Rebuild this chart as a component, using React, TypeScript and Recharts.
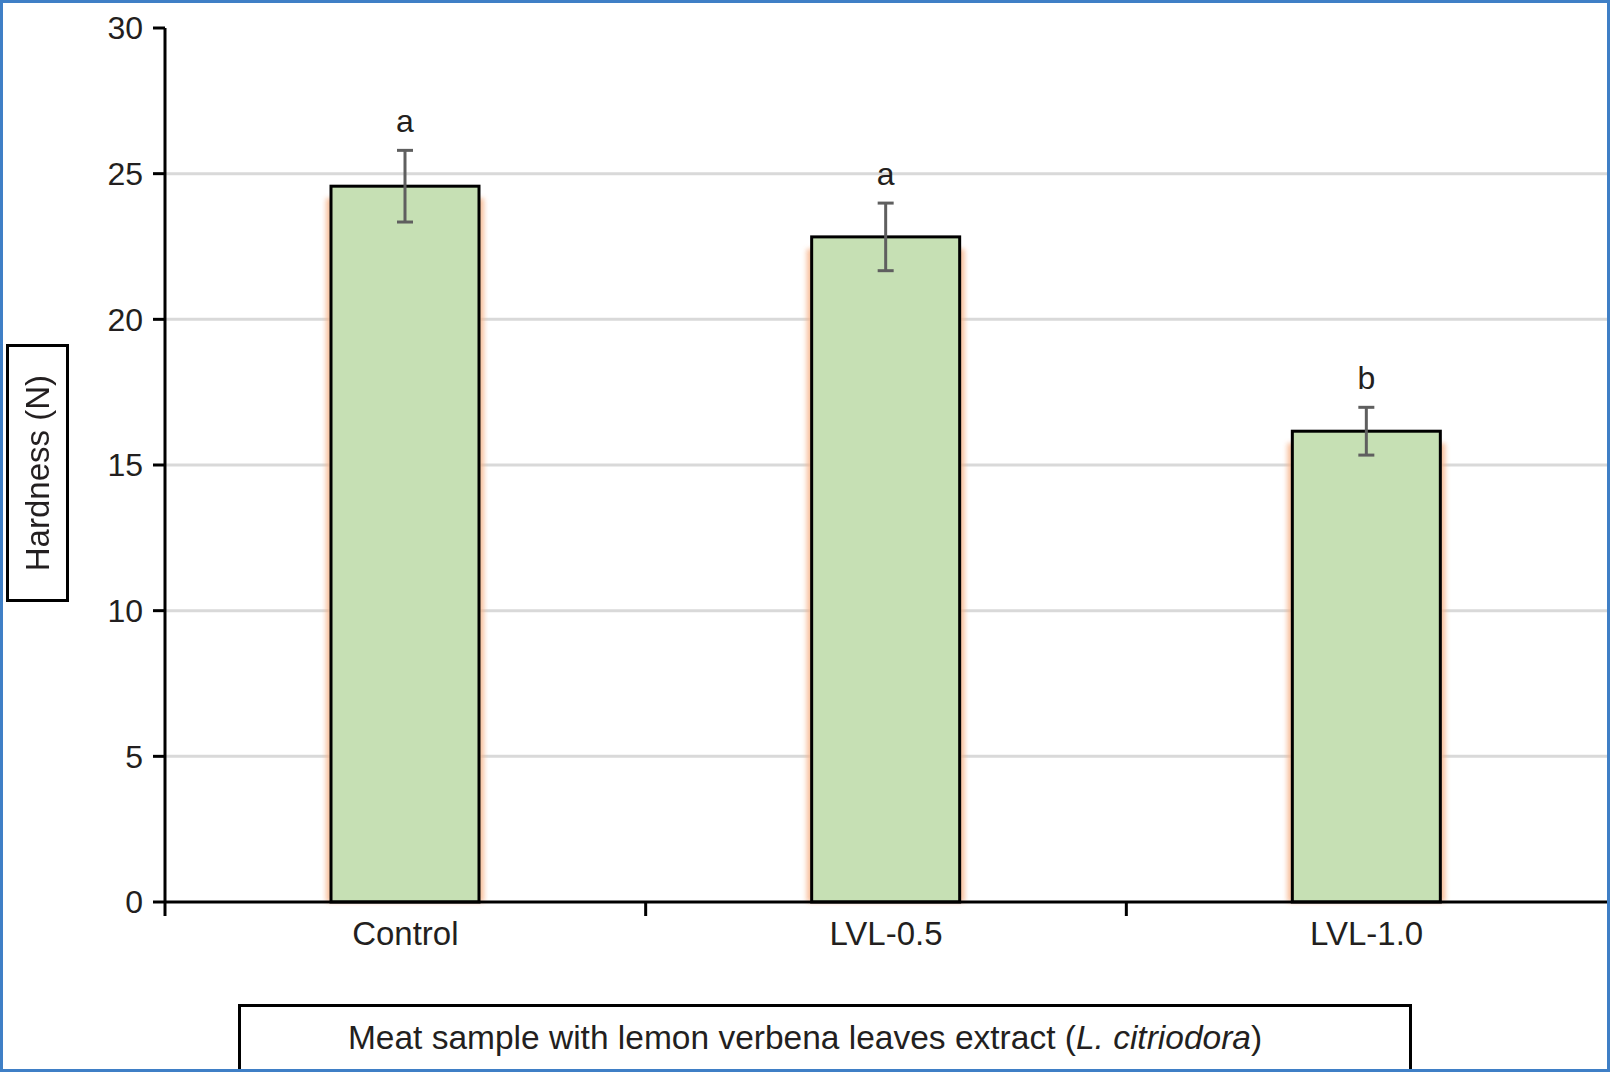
import { BarChart, Bar, XAxis, YAxis, CartesianGrid, ErrorBar } from "recharts";

// values
const samples = ["Control", "LVL-0.5", "LVL-1.0"];
const hardness = [24.57, 22.83, 16.16];
const hardnessErr = [1.23, 1.16, 0.82];
const letters = ["a", "a", "b"];
const yTicks = [0, 5, 10, 15, 20, 25, 30];
const gridValues = [5, 10, 15, 20, 25];

const data = samples.map((s, i) => ({
  sample: s,
  hardness: hardness[i],
  err: hardnessErr[i],
  letter: letters[i],
}));

const W = 1610;
const H = 1072;
const AXIS_X = 165;
const PLOT_RIGHT = 1607;
const BAND = (PLOT_RIGHT - AXIS_X) / samples.length;
const FONT = "'Liberation Sans', Arial, sans-serif";
const TEXT = "#231f20";

function SampleTick(props: any) {
  const { x, y, payload } = props;
  const left = x - BAND / 2;
  return (
    <g>
      <line x1={left} y1={y} x2={left} y2={y + 14} stroke="#000" strokeWidth={3} />
      <text x={x} y={y + 43} textAnchor="middle" fontSize={33} fontFamily={FONT} fill={TEXT}>
        {payload.value}
      </text>
    </g>
  );
}

function GlowBar(props: any) {
  const { x, y, width, height, payload } = props;
  const ppu = height / payload.hardness;
  const errTop = y - payload.err * ppu;
  return (
    <g>
      <rect
        x={x - 5}
        y={y + 12}
        width={width + 10}
        height={Math.max(height - 12, 0)}
        fill="#f7b58c"
        opacity={0.85}
        filter="url(#barGlow)"
      />
      <rect x={x} y={y} width={width} height={height} fill="#c6e0b4" stroke="#000" strokeWidth={3} />
      <text x={x + width / 2} y={errTop - 18} textAnchor="middle" fontSize={32} fontFamily={FONT} fill={TEXT}>
        {payload.letter}
      </text>
    </g>
  );
}

export default function App() {
  return (
    <div
      style={{
        position: "absolute",
        left: 0,
        top: 0,
        width: W,
        height: H,
        overflow: "hidden",
        background: "#fff",
        fontFamily: FONT,
      }}
    >
      <BarChart width={W} height={H} data={data} margin={{ top: 28, right: W - PLOT_RIGHT, left: 0, bottom: 100 }}>
        <defs>
          <filter id="barGlow" x="-20%" y="-20%" width="140%" height="140%">
            <feGaussianBlur stdDeviation="2.5" />
          </filter>
        </defs>
        <CartesianGrid vertical={false} horizontalValues={gridValues} stroke="#d9d9d9" strokeWidth={3} />
        <XAxis
          dataKey="sample"
          height={70}
          axisLine={{ stroke: "#000", strokeWidth: 3 }}
          tickLine={false}
          tickSize={0}
          tickMargin={0}
          tick={<SampleTick />}
          interval={0}
        />
        <YAxis
          width={AXIS_X}
          domain={[0, 30]}
          ticks={yTicks}
          interval={0}
          axisLine={{ stroke: "#000", strokeWidth: 3 }}
          tickLine={{ stroke: "#000", strokeWidth: 3 }}
          tickSize={12}
          tickMargin={10}
          tick={{ fontSize: 32, fill: TEXT, fontFamily: FONT }}
        />
        <Bar dataKey="hardness" barSize={148} isAnimationActive={false} shape={<GlowBar />}>
          <ErrorBar dataKey="err" width={8} stroke="#5f5f5f" strokeWidth={3} direction="y" isAnimationActive={false} />
        </Bar>
      </BarChart>

      <div
        style={{
          position: "absolute",
          left: 6,
          top: 344,
          width: 63,
          height: 258,
          boxSizing: "border-box",
          border: "3px solid #000",
          background: "#fff",
          display: "flex",
          alignItems: "center",
          justifyContent: "center",
        }}
      >
        <span
          style={{
            writingMode: "vertical-rl",
            transform: "rotate(180deg)",
            fontSize: 33,
            color: TEXT,
            whiteSpace: "nowrap",
          }}
        >
          Hardness (N)
        </span>
      </div>

      <div
        style={{
          position: "absolute",
          left: 238,
          top: 1004,
          width: 1174,
          height: 90,
          boxSizing: "border-box",
          border: "3px solid #000",
          background: "#fff",
          textAlign: "center",
          paddingTop: 11,
          paddingRight: 40,
          fontSize: 33.5,
          lineHeight: "40px",
          color: TEXT,
          whiteSpace: "nowrap",
        }}
      >
        Meat sample with lemon verbena leaves extract (<i>L. citriodora</i>)
      </div>

      <div
        style={{
          position: "absolute",
          left: 0,
          top: 0,
          width: W,
          height: H,
          boxSizing: "border-box",
          border: "3px solid #3f7fc6",
          pointerEvents: "none",
        }}
      />
    </div>
  );
}
